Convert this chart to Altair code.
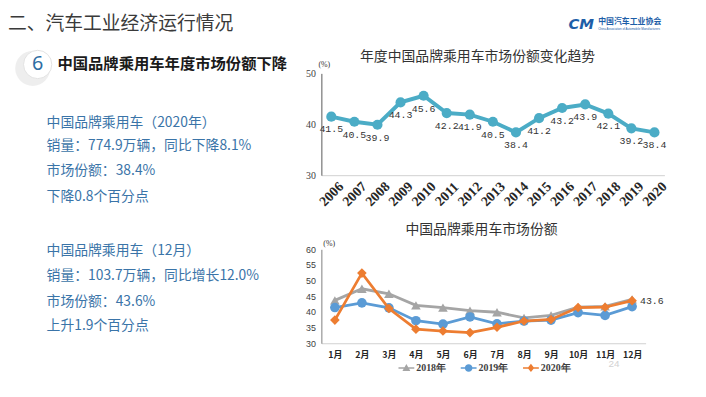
import altair as alt
import pandas as pd

# ---------------- data ----------------
years = ["2006", "2007", "2008", "2009", "2010", "2011", "2012", "2013",
         "2014", "2015", "2016", "2017", "2018", "2019", "2020"]
annual_share = [41.5, 40.5, 39.9, 44.3, 45.6, 42.2, 41.9, 40.5,
                38.4, 41.2, 43.2, 43.9, 42.1, 39.2, 38.4]

months = ["1月", "2月", "3月", "4月", "5月", "6月",
          "7月", "8月", "9月", "10月", "11月", "12月"]
series = ["2018年", "2019年", "2020年"]
share_2018 = [43.7, 47.4, 45.8, 42.1, 41.4, 40.4, 39.9, 38.1, 38.9, 41.5, 41.8, 44.0]
share_2019 = [41.4, 42.9, 41.3, 37.2, 36.1, 38.4, 36.2, 37.1, 37.4, 39.8, 38.9, 41.7]
share_2020 = [37.4, 52.4, 41.1, 34.5, 33.9, 33.4, 35.1, 37.1, 37.6, 41.4, 41.5, 43.6]

series_colors = ["#a5a5a5", "#5b9bd5", "#ed7d31"]
series_shapes = ["triangle-up", "circle", "diamond"]
legend_paths = [
    "M-1,-0.1H1V0.1H-1Z M0,-0.5L0.5,0.38L-0.5,0.38Z",
    "M-1,-0.1H1V0.1H-1Z M-0.48,0A0.48,0.48 0 1,1 0.48,0A0.48,0.48 0 1,1 -0.48,0Z",
    "M-1,-0.1H1V0.1H-1Z M0,-0.52L0.42,0L0,0.52L-0.42,0Z",
]

header_title = "二、汽车工业经济运行情况"
section_no = "6"
section_title = "中国品牌乘用车年度市场份额下降"
left_lines_a = ["中国品牌乘用车（2020年）", "销量：774.9万辆，同比下降8.1%",
                "市场份额：38.4%", "下降0.8个百分点"]
left_lines_b = ["中国品牌乘用车（12月）", "销量：103.7万辆，同比增长12.0%",
                "市场份额：43.6%", "上升1.9个百分点"]
top_title = "年度中国品牌乘用车市场份额变化趋势"
bottom_title = "中国品牌乘用车市场份额"

CJK = "Noto Sans CJK SC"


def txt(s, x, y, size=12, color="#333333", weight="normal", font=CJK,
        align="left", baseline="middle", **kw):
    return alt.Chart(alt.Data(values=[{"t": s}])).mark_text(
        align=align, baseline=baseline, font=font, fontSize=size,
        color=color, fontWeight=weight, **kw
    ).encode(x=alt.value(x), y=alt.value(y), text="t:N")


# ---------------- header ----------------
one = alt.Data(values=[{}])
shadow = alt.Chart(one).mark_circle(size=1250, color="#8c8c8c", opacity=0.15).encode(
    x=alt.value(25), y=alt.value(59))
disc = alt.Chart(one).mark_circle(size=820, fill="white", stroke="#e2e2e2",
                                  strokeWidth=1, opacity=1).encode(
    x=alt.value(30), y=alt.value(55))
header = alt.layer(
    txt(header_title, 0, 14, size=19, color="#3a3a3a"),
    txt("CM", 567, 14, size=15, color="#1d5ea8", weight="bold",
        font="DejaVu Sans", fontStyle="italic"),
    txt("中国汽车工业协会", 597, 12, size=8, color="#1d5ea8", weight="bold"),
    txt("China Association of Automobile Manufacturers", 597, 19, size=3,
        color="#1d5ea8", font="Liberation Sans"),
    shadow, disc,
    txt(section_no, 30, 55, size=20, color="#2e6da4", align="center",
        font="Noto Sans"),
    txt(section_title, 50, 55, size=15.5, color="#1a1a1a", weight="bold"),
).properties(width=698, height=64)

# ---------------- left panel ----------------
left_color = "#3a74a8"
left_layers = []
for s, y in zip(left_lines_a, [50, 74, 99, 125]):
    left_layers.append(txt(s, 39, y, size=14, color=left_color))
for s, y in zip(left_lines_b, [180, 205, 231, 256]):
    left_layers.append(txt(s, 39, y, size=14, color=left_color))
left = alt.layer(*left_layers).properties(width=300, height=300)

# ---------------- top chart ----------------
df_year = pd.DataFrame({"year": years, "share": annual_share})
xa = alt.X("year:O", sort=years, scale=alt.Scale(type="point", padding=0.43),
           axis=alt.Axis(title=None, labelAngle=-45, labelAlign="center",
                         labelBaseline="middle", labelFont="Liberation Serif",
                         labelFontWeight="bold", labelFontSize=14,
                         labelColor="#262626", ticks=False, domainColor="#d0d0d0",
                         labelPadding=19, grid=False))
ya = alt.Y("share:Q", scale=alt.Scale(domain=[30, 50], nice=False, zero=False),
           axis=alt.Axis(title=None, values=[30, 40, 50], labelFont="Liberation Serif",
                         labelFontSize=10, labelColor="#404040", ticks=False,
                         domainColor="#595959", grid=False, labelPadding=6))
base_top = alt.Chart(df_year).encode(x=xa, y=ya)
top = alt.layer(
    base_top.mark_line(color="#4bacc6", strokeWidth=4),
    base_top.mark_circle(color="#4bacc6", size=105, opacity=1),
    base_top.mark_text(dy=13, font="Liberation Mono", fontSize=10, color="#333333")
    .encode(text=alt.Text("share:Q", format=".1f")),
    txt(top_title, 158, -17, size=14, color="#333333", align="center"),
    txt("(%)", 3, -8, size=8, color="#333333", align="center", font="Liberation Serif"),
).properties(width=347, height=103)

# ---------------- bottom chart ----------------
rows = []
for s, vals in zip(series, [share_2018, share_2019, share_2020]):
    for m, v in zip(months, vals):
        rows.append({"month": m, "series": s, "share": v})
df_m = pd.DataFrame(rows)

xb = alt.X("month:O", sort=months, scale=alt.Scale(type="point", padding=0.5),
           axis=alt.Axis(title=None, labelAngle=0, labelFont=CJK, labelFontWeight="bold",
                         labelFontSize=9, labelColor="#262626", ticks=False,
                         domainColor="#d0d0d0", labelPadding=7, grid=False))
yb = alt.Y("share:Q", scale=alt.Scale(domain=[30, 60], nice=False, zero=False),
           axis=alt.Axis(title=None, values=[30, 35, 40, 45, 50, 55, 60],
                         labelFont="Liberation Sans", labelFontSize=9,
                         labelColor="#404040", ticks=False, domainColor="#7f7f7f",
                         grid=False, labelPadding=6))

bottom_layers = []
for s, c, shp in zip(series, series_colors, series_shapes):
    b = alt.Chart(df_m).transform_filter(alt.datum.series == s).encode(x=xb, y=yb)
    bottom_layers.append(b.mark_line(color=c, strokeWidth=2.8))
    bottom_layers.append(b.mark_point(shape=shp, filled=True, color=c, size=95, opacity=1))

# legend is lifted to the top-level group by the concat layout: coordinates are page-relative
leg = alt.Legend(title=None, orient="none", legendX=395, legendY=354,
                 direction="horizontal", symbolSize=256, symbolStrokeWidth=0,
                 labelFont="Liberation Serif", labelFontWeight="bold",
                 labelFontSize=10, labelColor="#404040", columnPadding=15,
                 labelOffset=2, padding=0)
legend_layer = alt.Chart(df_m).transform_filter("false").mark_point(
    filled=True, opacity=1, size=256).encode(
    x=xb, y=yb,
    color=alt.Color("series:N", scale=alt.Scale(domain=series, range=series_colors), legend=leg),
    shape=alt.Shape("series:N", scale=alt.Scale(domain=series, range=legend_paths), legend=leg),
)
last_label = alt.Chart(df_m).transform_filter(
    (alt.datum.series == "2020年") & (alt.datum.month == "12月")
).mark_text(align="left", dx=8, font="Liberation Mono", fontSize=10,
            color="#333333").encode(x=xb, y=yb, text=alt.Text("share:Q", format=".1f"))

bottom = alt.layer(
    *bottom_layers, legend_layer, last_label,
    txt(bottom_title, 162, -20, size=14, color="#333333", align="center"),
    txt("(%)", 8, -5, size=8, color="#333333", align="center", font="Liberation Serif"),
    txt("24", 296, 116, size=10, color="#d2d2d2", align="center", font="Liberation Sans"),
).properties(width=328, height=95)

# ---------------- layout ----------------
right = alt.vconcat(top, bottom, spacing=75, bounds="flush")
row = alt.hconcat(left, right, spacing=17, bounds="flush")
chart = alt.vconcat(header, row, spacing=0, bounds="flush").properties(
    padding=0, background="white"
).configure_view(strokeWidth=0)

chart.save("out.html", embed_options={"renderer": "svg", "actions": False})
